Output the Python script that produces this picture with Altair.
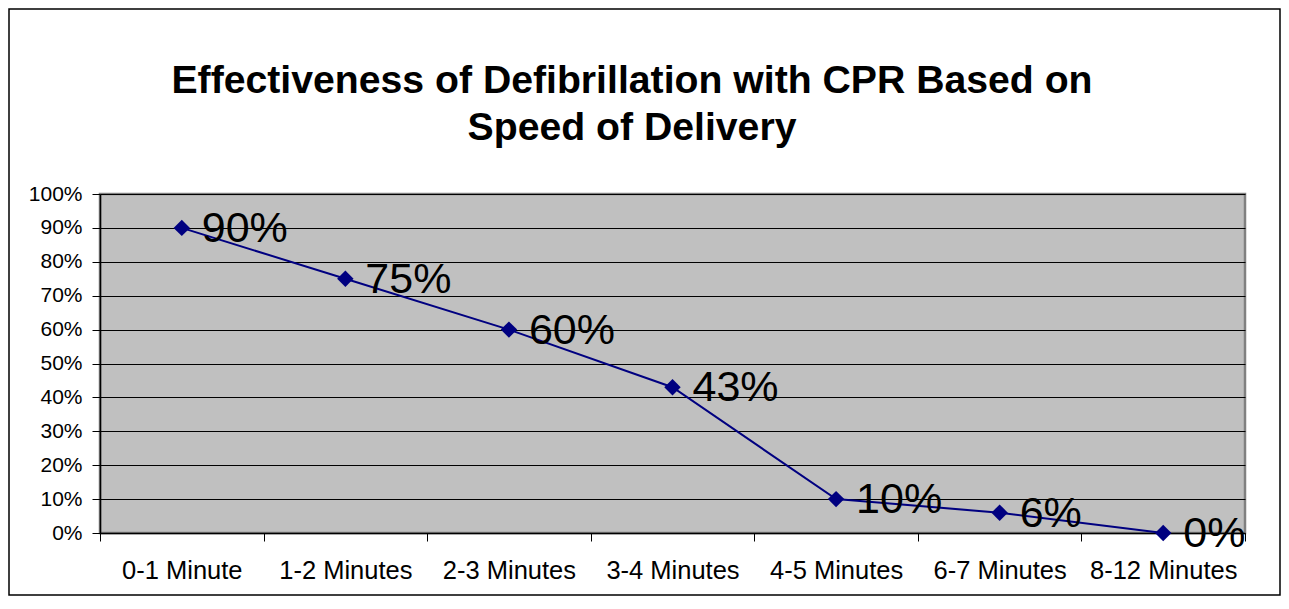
import altair as alt
import pandas as pd

categories = ["0-1 Minute", "1-2 Minutes", "2-3 Minutes", "3-4 Minutes",
              "4-5 Minutes", "6-7 Minutes", "8-12 Minutes"]
values = [0.90, 0.75, 0.60, 0.43, 0.10, 0.06, 0.00]
labels = ["90%", "75%", "60%", "43%", "10%", "6%", "0%"]
y_ticks = [i / 10 for i in range(11)]
title_line1 = "Effectiveness of Defibrillation with CPR Based on"
title_line2 = "Speed of Delivery"

df = pd.DataFrame({"cat": categories, "val": values, "lab": labels})
one_df = pd.DataFrame({"k": [0]})

FONT = "Arial, Liberation Sans, sans-serif"
NAVY = "#000080"
W, H = 1145, 339
PL, PT, PR, PB = 92, 186, 36, 63

x_enc = alt.X("cat:N", sort=categories, title=None,
              axis=alt.Axis(labelAngle=0, tickBand="extent", grid=False,
                            labelFontSize=25.5, labelFont=FONT, labelColor="black",
                            labelPadding=17, tickSize=8, tickColor="black",
                            domainColor="black", domainWidth=1.5))
y_enc = alt.Y("val:Q", title=None,
              scale=alt.Scale(domain=[0, 1], nice=False),
              axis=alt.Axis(values=y_ticks, format=".0%", labelFontSize=21,
                            labelFont=FONT, labelColor="black", labelPadding=10,
                            tickSize=8, tickColor="black", domainColor="black",
                            domainWidth=1.5, gridColor="black", gridWidth=1,
                            gridOpacity=1))

base = alt.Chart(df).encode(x=x_enc, y=y_enc)

line = base.mark_line(color=NAVY, strokeWidth=2)
pts = base.mark_point(shape="diamond", filled=True, size=270, color=NAVY, opacity=1)
txt = base.mark_text(align="left", baseline="middle", dx=20, dy=1, fontSize=43,
                     font=FONT, color="black").encode(text="lab:N")

outer = alt.Chart(one_df).mark_rect(fill="white", fillOpacity=0, stroke="black",
                                    strokeWidth=1.5).encode(
    x=alt.value(-PL + 1), x2=alt.value(W + PR - 1),
    y=alt.value(-PT + 1), y2=alt.value(H + PB - 1))

t1 = alt.Chart(one_df).mark_text(text=title_line1, fontSize=39.2, fontWeight="bold",
                                 font=FONT, color="black", align="center",
                                 baseline="alphabetic").encode(
    x=alt.value(532), y=alt.value(-101))
t2 = alt.Chart(one_df).mark_text(text=title_line2, fontSize=39.2, fontWeight="bold",
                                 font=FONT, color="black", align="center",
                                 baseline="alphabetic").encode(
    x=alt.value(532), y=alt.value(-54))

chart = alt.layer(outer, t1, t2, line, pts, txt).properties(
    width=W, height=H,
    autosize=alt.AutoSizeParams(type="none"),
    padding={"left": PL, "top": PT, "right": PR, "bottom": PB},
).configure_view(fill="#C0C0C0", stroke="#808080", strokeWidth=2.5)

chart.save("out.html", embed_options={"renderer": "svg", "actions": False})
